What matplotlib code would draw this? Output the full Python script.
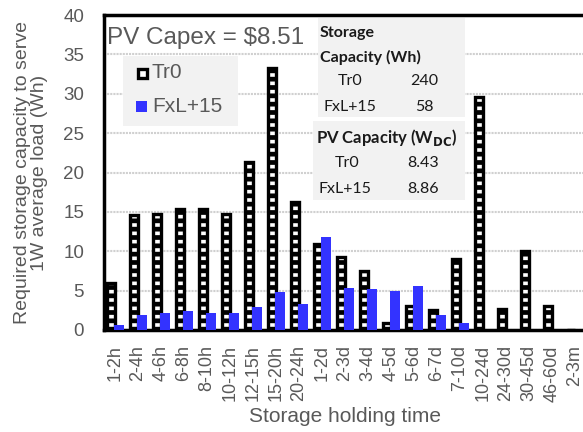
import numpy as np
import matplotlib
matplotlib.use("Agg")
from matplotlib import pyplot as plt
from matplotlib.patches import Rectangle

# data
categories = ["1-2h", "2-4h", "4-6h", "6-8h", "8-10h", "10-12h", "12-15h",
              "15-20h", "20-24h", "1-2d", "2-3d", "3-4d", "4-5d", "5-6d",
              "6-7d", "7-10d", "10-24d", "24-30d", "30-45d", "46-60d", "2-3m"]
tr0 = [6.0, 14.6, 14.7, 15.4, 15.4, 14.7, 21.3, 33.3, 16.3, 10.9, 9.3,
       7.5, 0.9, 3.0, 2.5, 9.0, 29.6, 2.7, 10.0, 3.0, 0.0]
fxl15 = [0.6, 1.9, 2.2, 2.4, 2.2, 2.2, 2.9, 4.8, 3.3, 11.8, 5.3,
         5.2, 5.0, 5.6, 1.9, 0.9, 0.0, 0.0, 0.0, 0.0, 0.0]
series_names = ["Tr0", "FxL+15"]
storage_cap = ["240", "58"]
pv_cap = ["8.43", "8.86"]

W, H = 583, 432
plt.rcParams["font.family"] = ["Liberation Sans", "DejaVu Sans"]
plt.rcParams["hatch.linewidth"] = 3.4

gray = "#595959"
blue = "#3333ff"
box = "#f2f2f2"

fig = plt.figure(figsize=(W / 100, H / 100), dpi=100)
# axes runs slightly past the right edge, like the cropped original
ax = fig.add_axes([103.5 / W, 1 - 330 / H, 483 / W, 315 / H])

x = np.arange(len(categories))
ax.bar(x - 0.17, tr0, 0.38, facecolor="white", edgecolor="black",
       hatch="--", linewidth=2.4, zorder=3)
ax.bar(x + 0.17, fxl15, 0.43, color=blue, zorder=4)

ax.set_xlim(-0.5, len(categories) - 0.5)
ax.set_ylim(0, 40)
ax.set_yticks(np.arange(0, 41, 5))
ax.grid(axis="y", color="#d0d0d0", linewidth=1.5, linestyle=(0, (1, 0.5)), zorder=0)
ax.set_xticks(x)
ax.set_xticklabels(categories, rotation=90, fontsize=13, color=gray)
ax.tick_params(axis="y", labelsize=13.5, colors=gray, length=0, pad=14)
ax.tick_params(axis="x", length=0, pad=11)
for s in ["left", "top", "bottom"]:
    ax.spines[s].set_linewidth(2.5)
    ax.spines[s].set_color("black")
ax.spines["right"].set_visible(False)

ax.set_ylabel("Required storage capacity to serve\n1W average load (Wh)",
              fontsize=14, color=gray, labelpad=11, linespacing=1.0)
ax.set_xlabel("Storage holding time", fontsize=15, color=gray, labelpad=4)


def fx(px):
    return px / W


def fy(py):
    return 1 - py / H


# title text inside plot
fig.text(fx(107), fy(38), "PV Capex = $8.51", fontsize=17.5, color=gray,
         va="center", ha="left", zorder=6)

# legend box
fig.patches.append(Rectangle((fx(123), fy(126)), fx(238) - fx(123), fy(56) - fy(126),
                             transform=fig.transFigure, facecolor=box,
                             edgecolor="none", zorder=5))
fig.patches.append(Rectangle((fx(137.5), fy(78)), 9 / W, 9 / H,
                             transform=fig.transFigure, facecolor="white",
                             edgecolor="black", linewidth=2.4, zorder=6))
fig.patches.append(Rectangle((fx(136), fy(112)), 11 / W, 11 / H,
                             transform=fig.transFigure, facecolor=blue,
                             edgecolor="none", zorder=6))
fig.text(fx(152), fy(73), series_names[0], fontsize=15, color=gray,
         va="center", zorder=7)
fig.text(fx(152), fy(107), series_names[1], fontsize=15, color=gray,
         va="center", zorder=7)

# info tables
tfont = ["Lato", "DejaVu Sans"]
tsize = 11.5
fig.patches.append(Rectangle((fx(318), fy(117)), fx(465) - fx(318), fy(18) - fy(117),
                             transform=fig.transFigure, facecolor=box,
                             edgecolor="none", zorder=5))
fig.patches.append(Rectangle((fx(313), fy(200)), fx(465) - fx(313), fy(121) - fy(200),
                             transform=fig.transFigure, facecolor=box,
                             edgecolor="none", zorder=5))
dark = "#1a1a1a"
fig.text(fx(320), fy(33), "Storage", fontsize=tsize, fontweight="bold",
         family=tfont, color=dark, va="center", zorder=7)
fig.text(fx(320), fy(57), "Capacity (Wh)", fontsize=tsize, fontweight="bold",
         family=tfont, color=dark, va="center", zorder=7)
fig.text(fx(350), fy(81), series_names[0], fontsize=tsize, family=tfont,
         color=dark, va="center", ha="center", zorder=7)
fig.text(fx(424), fy(81), storage_cap[0], fontsize=tsize, family=tfont,
         color=dark, va="center", ha="center", zorder=7)
fig.text(fx(350), fy(107), series_names[1], fontsize=tsize, family=tfont,
         color=dark, va="center", ha="center", zorder=7)
fig.text(fx(424), fy(107), storage_cap[1], fontsize=tsize, family=tfont,
         color=dark, va="center", ha="center", zorder=7)

fig.text(fx(316), fy(137), r"PV Capacity (W$_{\mathbf{DC}}$)", fontsize=tsize + 0.5,
         fontweight="bold", family=tfont, color=dark, va="center", zorder=7)
fig.text(fx(347), fy(163), series_names[0], fontsize=tsize, family=tfont,
         color=dark, va="center", ha="center", zorder=7)
fig.text(fx(423), fy(163), pv_cap[0], fontsize=tsize, family=tfont,
         color=dark, va="center", ha="center", zorder=7)
fig.text(fx(345), fy(189), series_names[1], fontsize=tsize, family=tfont,
         color=dark, va="center", ha="center", zorder=7)
fig.text(fx(423), fy(189), pv_cap[1], fontsize=tsize, family=tfont,
         color=dark, va="center", ha="center", zorder=7)

fig.savefig("out.png", dpi=100)
